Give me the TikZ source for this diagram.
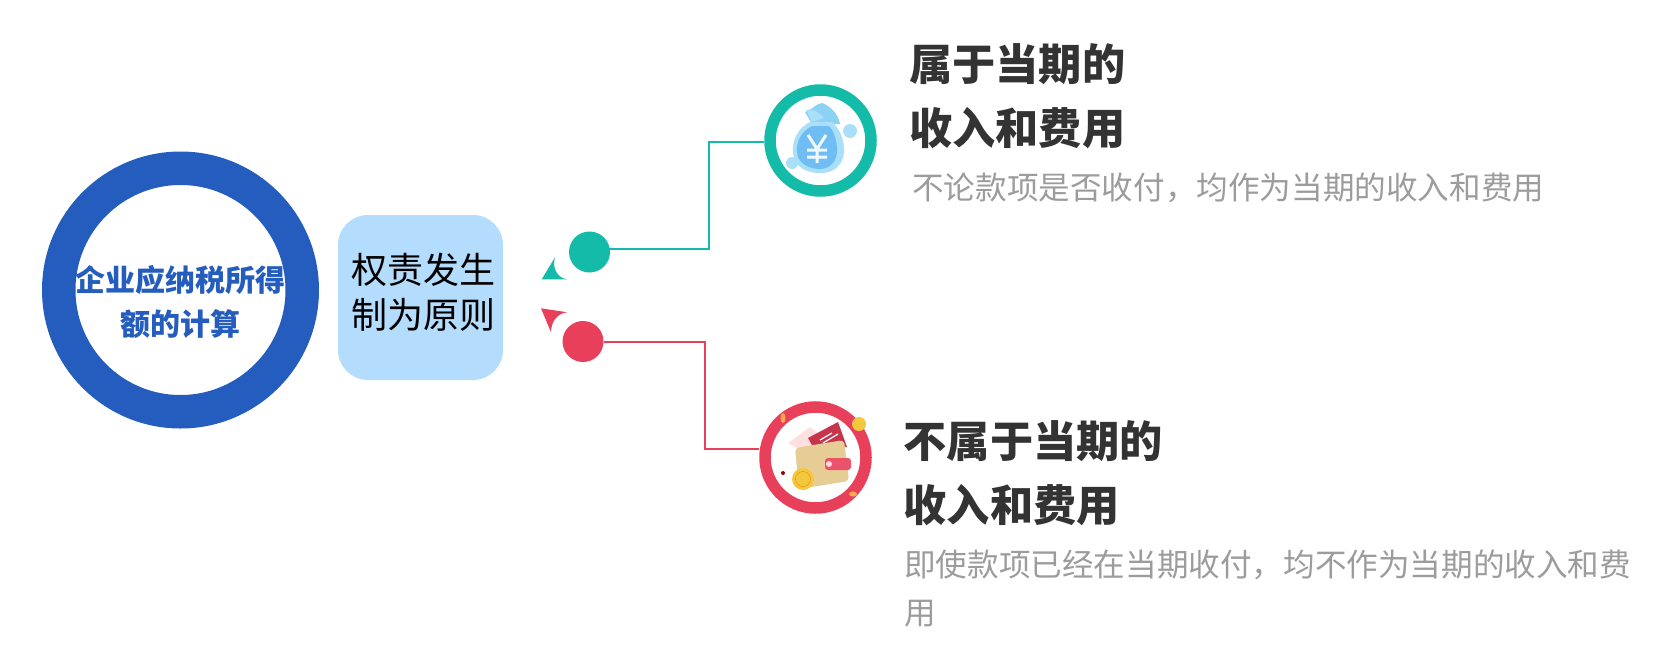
\documentclass[tikz,border=0pt]{standalone}
\usepackage{fontspec}
\setmainfont{Noto Sans CJK SC}
\usetikzlibrary{calc}
\definecolor{ringblue}{HTML}{245DBD}
\definecolor{boxblue}{HTML}{B3DCFD}
\definecolor{tealc}{HTML}{13BBA8}
\definecolor{redc}{HTML}{E8405A}
\definecolor{titlec}{HTML}{333333}
\definecolor{subc}{HTML}{9C9C9C}
\definecolor{bagc}{HTML}{6FBDF2}
\definecolor{bagrim}{HTML}{A9DFF8}
\definecolor{knotc}{HTML}{8CD2F5}
\definecolor{purse}{HTML}{E6CD96}
\definecolor{coinc}{HTML}{F2C93C}
\newcommand{\sized}[2]{\fontsize{#1}{#2}\selectfont}
\tikzset{
	ringnode/.style={circle, draw=#1, line width=11.5pt, minimum size=101pt, inner sep=0pt},
	dotnode/.style={circle, fill=#1, minimum size=41pt, inner sep=0pt},
	elbow/.style={draw=#1, line width=2pt},
	titletext/.style={anchor=west, inner sep=0pt, align=left, text=titlec, font=\sized{43.2}{64}\bfseries},
	subtext/.style={anchor=west, inner sep=0pt, align=left, text=subc, font=\sized{31.6}{48}},
}

\begin{document}
\begin{tikzpicture}[x=1pt, y=-1pt]
		\useasboundingbox (0,0) rectangle (1667,664);
		
		\draw (180.5,290) node[circle, draw=ringblue, line width=33.5pt, minimum size=243.5pt, inner sep=0pt] (calc) {};
		\draw (180.5,301.5) node[inner sep=0pt, align=center, text=ringblue, font=\sized{30}{44}\bfseries] (calcText) {企业应纳税所得\\额的计算};
		
		\draw (420.5,297.5) node[fill=boxblue, rounded corners=30pt, minimum size=165pt, inner sep=0pt] (rule) {};
		\draw (423,292) node[inner sep=0pt, align=center, font=\sized{36}{45}] (ruleText) {权责发生\\制为原则};
		
		\draw (589.5,252) node[dotnode=tealc] (dotTop) {};
		\draw (583,341.5) node[dotnode=redc] (dotBot) {};
		\draw (820.5,140.5) node[ringnode=tealc] (ringTop) {};
		\draw (815.5,457.5) node[ringnode=redc] (ringBot) {};
		
		\coordinate (startTop) at (600,249);
		\coordinate (kneeTop) at (709,142);
		\coordinate (kneeBot) at (704.5,449);
		\draw[elbow=tealc] (startTop) -| (kneeTop) -- (ringTop.west |- kneeTop);
		\draw[elbow=redc] (dotBot) -| (kneeBot) -- (ringBot.west |- kneeBot);
		
		% curved arrow tips
		\fill[tealc] (541.7,279.3) -- (555,257.3) .. controls (552,268) and (557,278) .. (567.3,279.3) -- cycle;
		\fill[redc] (541,308.3) -- (567.3,312.3) .. controls (558,313) and (551,321) .. (551,332.3) -- cycle;
		
		% money bag
		\fill[bagrim] (850,131) circle (7);
		\fill[knotc] (805,112) .. controls (812,110) and (815,104) .. (822,103) .. controls (830,106) and (838,113) .. (840,124) -- (812,124) -- cycle;
		\fill[bagrim] (806,110) .. controls (811,108) and (816,110) .. (824,118) -- (812,122) -- cycle;
		\fill[bagrim] (810,122) .. controls (798,128) and (792,140) .. (793,152) .. controls (794,168) and (808,174) .. (823,173) .. controls (838,172) and (845,160) .. (844,148) .. controls (843,136) and (838,127) .. (832,122) -- cycle;
		\fill[bagc] (812,126) .. controls (802,131) and (796,141) .. (797,152) .. controls (798,164) and (809,169) .. (821,169) .. controls (833,168) and (838,158) .. (837,147) .. controls (836,137) and (833,130) .. (829,126) -- cycle;
		\draw[white!90!bagc, line width=3pt] (808,135) -- (817,149) -- (826,135) (817,149) -- (817,163) (807,150) -- (827,150) (807,157) -- (827,157);
		\fill[bagrim] (792,163) circle (6);
		
		% wallet
		\fill[red!12] (788,443) -- (810,427) -- (826,440) -- (800,450) -- cycle;
		\fill[redc!85!black] (808,438) -- (838,422) -- (847,447) -- (813,447) -- cycle;
		\draw[white, line width=1.2pt] (820,440) -- (832,433) (823,443) -- (838,434);
		\fill[purse, rounded corners=4pt] (795,448) -- (844,440) -- (849,481) -- (799,489) -- cycle;
		\fill[redc!90!white, rounded corners=3pt] (825,458) rectangle (851,470);
		\fill[red!15] (829,464) circle (3);
		\fill[coinc] (803,479) circle (11);
		\draw[orange!80!brown] (803,479) circle (7.5);
		\fill[coinc] (859,424) circle (7);
		\fill[orange!70] (783,418) ellipse (2.5 and 5);
		\fill[orange!70] (853,494) ellipse (4 and 2.5);
		\fill[red!60!black] (783,473) circle (2);
		
		\draw (909,96) node[titletext] (headTop) {属于当期的\\收入和费用};
		\draw (912,188) node[subtext] (noteTop) {不论款项是否收付，均作为当期的收入和费用};
		\draw (903.5,473) node[titletext] (headBot) {不属于当期的\\收入和费用};
		\draw (904,588) node[subtext] (noteBot) {即使款项已经在当期收付，均不作为当期的收入和费\\用};
	\end{tikzpicture}
\end{document}
